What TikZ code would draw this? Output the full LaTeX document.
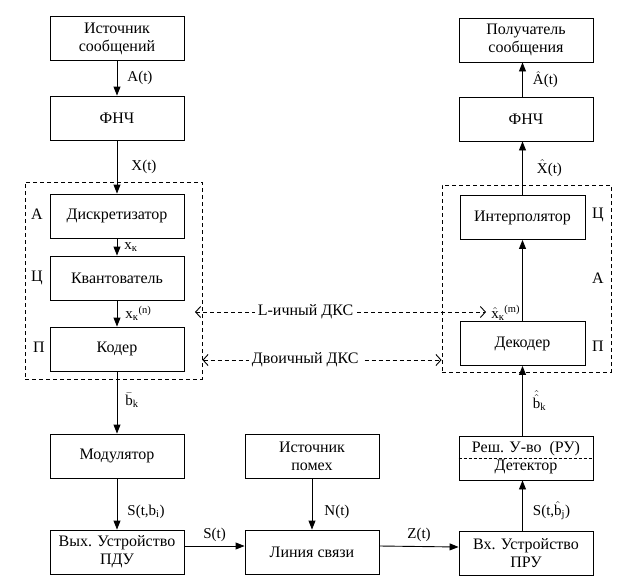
\documentclass[tikz,border=0pt]{standalone}
\usepackage{fontspec}
\setmainfont{Liberation Serif}
\usepackage{tikz}
\usetikzlibrary{arrows.meta}

\begin{document}
\begin{tikzpicture}[x=1pt,y=-1pt,line width=0.9pt,
        font=\fontsize{16}{18}\selectfont,
        blk/.style={draw,minimum width=134pt,minimum height=44pt,align=center,inner sep=0pt},
        nblk/.style={blk,minimum width=125pt},
        grp/.style={draw,dash pattern=on 4pt off 3pt,inner sep=0pt},
        sig/.style={-{Triangle[length=9pt,width=7pt]}},
        dks/.style={dash pattern=on 4pt off 3pt,{Straight Barb[length=5pt,width=11pt]}-{Straight Barb[length=5pt,width=11pt]}},
        lbl/.style={font=\fontsize{15}{16}\selectfont,inner sep=0pt}]
        \useasboundingbox (0,0) rectangle (622,587);
        % groups
        \node[grp,minimum width=177pt,minimum height=197pt] (enc) at (113.5,280.5) {};
        \node[grp,minimum width=169pt,minimum height=187pt] (dcd) at (526.5,278.5) {};
        % transmitter
        \node[blk] (src) at (117,38.5) {Источник\\сообщений};
        \node[blk] (lpfa) at (117,118) {ФНЧ};
        \node[blk] (disc) at (117,216) {Дискретизатор};
        \node[blk] (quant) at (117,278) {Квантователь};
        \node[blk] (cod) at (117,349) {Кодер};
        \node[blk] (mod) at (117,456) {Модулятор};
        \node[blk] (tx) at (117,552) {Вых. Устройство\\ПДУ};
        % channel
        \node[blk] (noise) at (312,456) {Источник\\помех};
        \node[blk] (chan) at (312,552) {Линия связи};
        % receiver
        \node[blk] (rx) at (526,553) {Вх. Устройство\\ПРУ};
        \node[blk] (det) at (526,458) {Реш. У-во~~(РУ)\\Детектор};
        \draw[line width=0.7pt,dash pattern=on 3pt off 2pt] (det.west) -- (det.east);
        \node[nblk] (dec) at (522.5,343.5) {Декодер};
        \node[nblk] (interp) at (522.5,217.5) {Интерполятор};
        \node[blk] (lpfb) at (526,119) {ФНЧ};
        \node[blk] (dst) at (526,40) {Получатель\\сообщения};
        % group letters
        \node (ga) at (37,214) {А};
        \node (gc) at (37,278) {Ц};
        \node (gp) at (39,347) {П};
        \node (ha) at (598,278) {А};
        \node (hc) at (598,215) {Ц};
        \node (hp) at (598,346) {П};
        % signals
        \draw[sig] (src) -- node[lbl,right=10pt] {A(t)} (lpfa);
        \draw[sig] (lpfa) -- node[lbl,right=14pt] {X(t)} (disc);
        \draw[sig] (disc) -- node[lbl,right=7pt] {x\textsubscript{к}} (quant);
        \draw[sig] (quant) -- node[lbl,right=8pt] {x\textsubscript{к}\textsuperscript{(n)}} (cod);
        \draw[sig] (cod) -- node[lbl,right=8pt,pos=.47] {$\bar{\mathrm{b}}$\textsubscript{k}} (mod);
        \draw[sig] (mod) -- node[lbl,right=10pt,pos=.65] {S(t,b\textsubscript{i})} (tx);
        \draw[sig] ([yshift=6pt]tx.east) -- node[lbl,above=4pt] {S(t)} ([yshift=6pt]chan.west);
        \draw[sig] (noise) -- node[lbl,right=12pt,pos=.65] {N(t)} (chan);
        \draw[sig] ([yshift=6pt]chan.east) -- node[lbl,above=4pt] {Z(t)} ([yshift=6pt]rx.west);
        \draw[sig] (rx.north -| dec) -- node[lbl,right=10pt,pos=.4] {S(t,$\hat{\mathrm{b}}$\textsubscript{j})} (det.south -| dec);
        \draw[sig] (det.north -| dec) -- node[lbl,right=10pt,pos=.5] {$\hat{\hat{\mathrm{b}}}$\textsubscript{k}} (dec);
        \draw[sig] (dec) -- node[lbl,left=2pt,pos=.1] {$\hat{\mathrm{x}}$\textsubscript{к}\textsuperscript{(m)}} (interp);
        \draw[sig] (interp.north) -- node[lbl,right=14pt] {$\hat{\mathrm{X}}$(t)} (interp.north |- lpfb.south);
        \draw[sig] (lpfb.north -| interp) -- node[lbl,right=10pt] {$\hat{\mathrm{A}}$(t)} (dst.south -| interp);
        % channels
        \coordinate (lka) at (195,312);
        \coordinate (lkb) at (486,312);
        \draw[dks] (lka) -- node[pos=.38,fill=white,inner sep=3pt] {L-ичный ДКС} (lkb);
        \draw[dks] (enc.east |- 0,360) -- node[pos=.43,fill=white,inner sep=3pt] {Двоичный ДКС} (dcd.west |- 0,360);
        \end{tikzpicture}
\end{document}
